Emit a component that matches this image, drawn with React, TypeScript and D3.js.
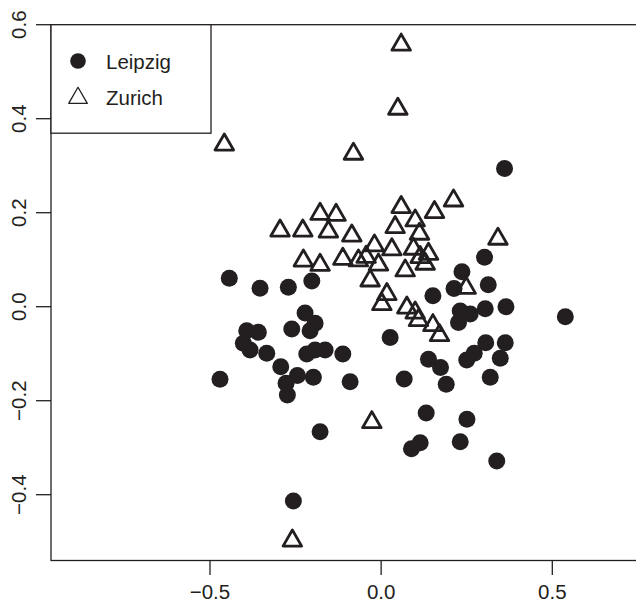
import React from "react";
import * as d3 from "d3";

const leipzigX = [-0.4436,-0.3538,-0.2711,-0.2026,-0.2222,-0.1930,-0.2611,-0.2076,-0.3927,-0.3588,-0.4026,-0.3830,-0.3342,-0.2173,-0.1930,-0.1637,-0.1120,-0.2933,-0.2447,-0.1980,-0.2778,-0.2740,-0.4708,-0.0906,-0.1784,-0.2564,0.3605,0.3020,0.2360,0.3129,0.2129,0.1512,0.3646,0.3041,0.2310,0.2602,0.2260,0.5380,0.0263,0.1383,0.1734,0.0673,0.1901,0.2500,0.2719,0.3056,0.3626,0.3480,0.3187,0.1316,0.2506,0.1140,0.0886,0.2310,0.3377];
const leipzigY = [0.0604,0.0391,0.0413,0.0547,-0.0134,-0.0353,-0.0474,-0.0511,-0.0511,-0.0545,-0.0779,-0.0921,-0.0991,-0.1006,-0.0921,-0.0921,-0.1006,-0.1277,-0.1464,-0.1502,-0.1630,-0.1879,-0.1545,-0.1596,-0.2660,-0.4134,0.2940,0.1051,0.0745,0.0468,0.0387,0.0234,0.0000,-0.0045,-0.0091,-0.0155,-0.0336,-0.0213,-0.0655,-0.1119,-0.1294,-0.1538,-0.1651,-0.1134,-0.0991,-0.0766,-0.0766,-0.1098,-0.1502,-0.2262,-0.2396,-0.2894,-0.3023,-0.2872,-0.3283];

const zurichX = [-0.4582,0.0585,0.0488,-0.0810,0.2114,0.1558,0.0585,0.0994,0.0409,0.1120,0.3412,-0.1784,-0.1316,-0.2953,-0.2289,-0.1541,-0.0857,-0.0196,0.0313,0.0944,0.1383,0.1140,0.1287,0.0702,-0.2272,-0.1784,-0.1120,-0.0664,-0.0439,-0.0079,-0.0322,0.0167,0.0020,0.0751,0.0994,0.1091,0.1512,0.1705,0.2485,-0.0272,-0.2594];
const zurichY = [0.3447,0.5572,0.4209,0.3251,0.2257,0.2011,0.2117,0.1832,0.1691,0.1549,0.1443,0.1972,0.1951,0.1617,0.1617,0.1596,0.1511,0.1300,0.1217,0.1230,0.1123,0.1053,0.0911,0.0768,0.0979,0.0887,0.1015,0.0981,0.1057,0.0894,0.0555,0.0264,0.0051,-0.0021,-0.0128,-0.0289,-0.0396,-0.0609,0.0398,-0.2460,-0.4979];

const xTicks = [-0.5, 0, 0.5];
const yTicks = [-0.4, -0.2, 0, 0.2, 0.4, 0.6];
const legendLabels = ["Leipzig", "Zurich"];

const W = 636;
const H = 602;
const INK = "#231f20";
const FONT = "'Liberation Sans', Arial, Helvetica, sans-serif";

const x = d3.scaleLinear().domain([-0.5, 0.5]).range([210, 552.3]);
const y = d3.scaleLinear().domain([-0.4, 0.6]).range([494.7, 24.7]);

const boxLeft = 51;
const boxTop = 24.7;
const boxBottom = 560.5;

const fmt = (v: number) => {
  const s = d3.format(".1f")(Math.abs(v));
  return v < 0 ? "\u2212" + s : s;
};

const S = 6.9;
function triPath(cx: number, cy: number, s: number) {
  const r = 1.5551 * s;
  const xc = 1.3468 * s;
  const yc = 0.7776 * s;
  const p = d3.path();
  p.moveTo(cx, cy - r);
  p.lineTo(cx + xc, cy + yc);
  p.lineTo(cx - xc, cy + yc);
  p.closePath();
  return p.toString();
}

export default function App() {
  return (
    <svg
      width={W}
      height={H}
      style={{ position: "absolute", left: 0, top: 0, background: "#fff" }}
    >
      <rect x={0} y={0} width={W} height={H} fill="#fff" />
      <g>
        {leipzigX.map((v, i) => (
          <circle key={"l" + i} cx={x(v)} cy={y(leipzigY[i])} r={8.5} fill={INK} />
        ))}
        {zurichX.map((v, i) => (
          <path
            key={"z" + i}
            d={triPath(x(v), y(zurichY[i]), S)}
            fill="none"
            stroke={INK}
            strokeWidth={2.8}
            strokeLinejoin="round"
          />
        ))}
      </g>
      <rect
        x={boxLeft}
        y={boxTop}
        width={W + 20 - boxLeft}
        height={boxBottom - boxTop}
        fill="none"
        stroke={INK}
        strokeWidth={1.3}
      />
      <g>
        {xTicks.map((t) => (
          <g key={"xt" + t}>
            <line x1={x(t)} x2={x(t)} y1={boxBottom} y2={boxBottom + 14.5} stroke={INK} strokeWidth={1.3} />
            <text
              x={x(t)}
              y={599}
              textAnchor="middle"
              fontFamily={FONT}
              fontSize={20.5}
              fill={INK}
            >
              {fmt(t)}
            </text>
          </g>
        ))}
      </g>
      <g>
        {yTicks.map((t) => (
          <g key={"yt" + t}>
            <line x1={boxLeft - 15} x2={boxLeft} y1={y(t)} y2={y(t)} stroke={INK} strokeWidth={1.3} />
            <text
              transform={`translate(25.5,${y(t)}) rotate(-90)`}
              textAnchor="middle"
              fontFamily={FONT}
              fontSize={20.5}
              fill={INK}
            >
              {fmt(t)}
            </text>
          </g>
        ))}
      </g>
      <g>
        <rect x={boxLeft} y={boxTop} width={160} height={108.5} fill="#fff" stroke={INK} strokeWidth={1.3} />
        <circle cx={78} cy={61} r={7.8} fill={INK} />
        <path d={triPath(78, 98, 6.9)} fill="none" stroke={INK} strokeWidth={1.3} strokeLinejoin="round" />
        <text x={106} y={68.5} fontFamily={FONT} fontSize={20.5} fill={INK}>
          {legendLabels[0]}
        </text>
        <text x={106} y={104.5} fontFamily={FONT} fontSize={20.5} fill={INK}>
          {legendLabels[1]}
        </text>
      </g>
    </svg>
  );
}
